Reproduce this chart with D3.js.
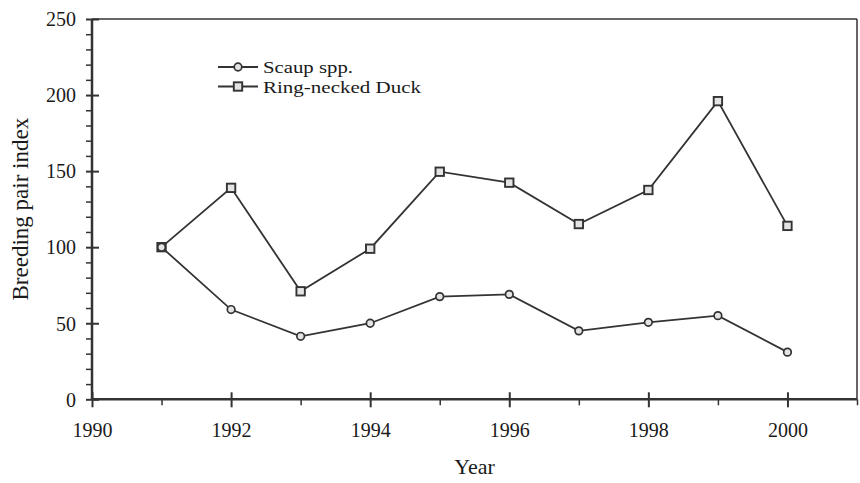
<!DOCTYPE html>
<html>
<head>
<meta charset="utf-8">
<script src="https://cdn.jsdelivr.net/npm/d3@7"></script>
<style>
  html, body { margin: 0; padding: 0; background: #fff; }
  svg { display: block; }
  text { font-family: "Liberation Serif", "Times New Roman", serif; fill: #1a1a1a; }
</style>
</head>
<body>
<svg id="chart" width="860" height="483"></svg>
<script>
const years = [1991, 1992, 1993, 1994, 1995, 1996, 1997, 1998, 1999, 2000];
const scaup = [100, 59, 41.4, 50, 67.5, 69, 45, 50.6, 55, 31];
const ringNecked = [100, 139, 71, 99, 149.6, 142.4, 115.2, 137.6, 196, 114];
const seriesNames = ["Scaup spp.", "Ring-necked Duck"];
const xTicks = [1990, 1992, 1994, 1996, 1998, 2000];
const yTicks = [0, 50, 100, 150, 200, 250];

(function () {
const svg = d3.select("#chart");
const mLeft = 92, mRight = 857, mTop = 19, mBottom = 399.3;
const ink = "#333";
const serif = "'Liberation Serif', 'Times New Roman', serif";

const x = d3.scaleLinear().domain([1990, 2001]).range([mLeft, mRight]);
const y = d3.scaleLinear().domain([0, 250]).range([mBottom, mTop]);

// frame (top and right)
svg.append("line").attr("x1", mLeft).attr("x2", mRight).attr("y1", mTop).attr("y2", mTop)
  .attr("stroke", ink).attr("stroke-width", 1.5);
svg.append("line").attr("x1", mRight).attr("x2", mRight).attr("y1", mTop).attr("y2", mBottom)
  .attr("stroke", ink).attr("stroke-width", 1.5);

// Y axis: minor ticks outside
const yMinor = d3.range(0, 251, 10).filter(v => v % 50 !== 0);
const yAxisMinor = d3.axisLeft(y).tickValues(yMinor).tickSize(6).tickFormat("");
const gyMinor = svg.append("g").attr("transform", `translate(${mLeft},0)`).call(yAxisMinor);
gyMinor.select(".domain").remove();
gyMinor.selectAll("line").attr("stroke", ink).attr("stroke-width", 1.5);

const yAxis = d3.axisLeft(y).tickValues(yTicks).tickSize(6).tickPadding(10).tickFormat(d3.format("d"));
const gy = svg.append("g").attr("transform", `translate(${mLeft},0)`).call(yAxis);
gy.attr("font-family", serif).attr("font-size", 20);
gy.select(".domain").attr("stroke", ink).attr("stroke-width", 2.5).attr("d", `M0,${mBottom}V${mTop}`);
gy.selectAll(".tick line").attr("stroke", ink).attr("stroke-width", 2).attr("x1", 7).attr("x2", -6);
gy.selectAll(".tick text").attr("fill", "#1a1a1a").attr("dy", "0.34em");

// X axis
const xMinor = [1991, 1993, 1995, 1997, 1999, 2001];
const xAxisMinor = d3.axisBottom(x).tickValues(xMinor).tickSize(6).tickFormat("");
const gxMinor = svg.append("g").attr("transform", `translate(0,${mBottom})`).call(xAxisMinor);
gxMinor.select(".domain").remove();
gxMinor.selectAll("line").attr("stroke", ink).attr("stroke-width", 1.5);

const xAxis = d3.axisBottom(x).tickValues(xTicks).tickSize(8).tickFormat(d3.format("d"));
const gx = svg.append("g").attr("transform", `translate(0,${mBottom})`).call(xAxis);
gx.attr("font-family", serif).attr("font-size", 20);
gx.select(".domain").attr("stroke", ink).attr("stroke-width", 2.5).attr("d", `M${mLeft},0H${mRight}`);
gx.selectAll(".tick line").attr("stroke", ink).attr("stroke-width", 2).attr("y1", -7).attr("y2", 8);
gx.selectAll(".tick text").attr("fill", "#1a1a1a").attr("y", 38).attr("dy", 0);

// axis titles
svg.append("text").attr("x", (mLeft + mRight) / 2).attr("y", 474)
  .attr("text-anchor", "middle").style("font-size", "22px").text("Year");
svg.append("text").attr("transform", `translate(28,${(mTop + mBottom) / 2}) rotate(-90)`)
  .attr("text-anchor", "middle").style("font-size", "23px").text("Breeding pair index");

// lines
const line = d3.line().x(d => x(d[0])).y(d => y(d[1]));
const scaupData = years.map((yr, i) => [yr, scaup[i]]);
const rndData = years.map((yr, i) => [yr, ringNecked[i]]);

[scaupData, rndData].forEach(data => {
  svg.append("path").datum(data).attr("d", line)
    .attr("fill", "none").attr("stroke", ink).attr("stroke-width", 1.8);
});

function circleMarker(g, cx, cy) {
  g.append("circle").attr("cx", cx).attr("cy", cy).attr("r", 3.8)
    .attr("fill", "#e4e4e4").attr("stroke", ink).attr("stroke-width", 1.7);
}
function squareMarker(g, cx, cy) {
  g.append("rect").attr("x", cx - 4.2).attr("y", cy - 4.2).attr("width", 8.4).attr("height", 8.4)
    .attr("fill", "#e4e4e4").attr("stroke", ink).attr("stroke-width", 1.9);
}

const mk = svg.append("g");
rndData.forEach(d => squareMarker(mk, x(d[0]), y(d[1])));
scaupData.forEach(d => circleMarker(mk, x(d[0]), y(d[1])));

// legend
const legendRows = [
  { name: seriesNames[0], type: "circle", cy: 67, len: 90 },
  { name: seriesNames[1], type: "square", cy: 86.5, len: 158 }
];
legendRows.forEach(r => {
  svg.append("line").attr("x1", 218).attr("x2", 258).attr("y1", r.cy).attr("y2", r.cy)
    .attr("stroke", ink).attr("stroke-width", 1.8);
  if (r.type === "circle") circleMarker(svg, 238, r.cy); else squareMarker(svg, 238, r.cy);
  svg.append("text").attr("x", 263).attr("y", r.cy + 6)
    .attr("textLength", r.len).attr("lengthAdjust", "spacingAndGlyphs")
    .style("font-size", "17.5px").text(r.name);
});
})();
</script>
</body>
</html>
